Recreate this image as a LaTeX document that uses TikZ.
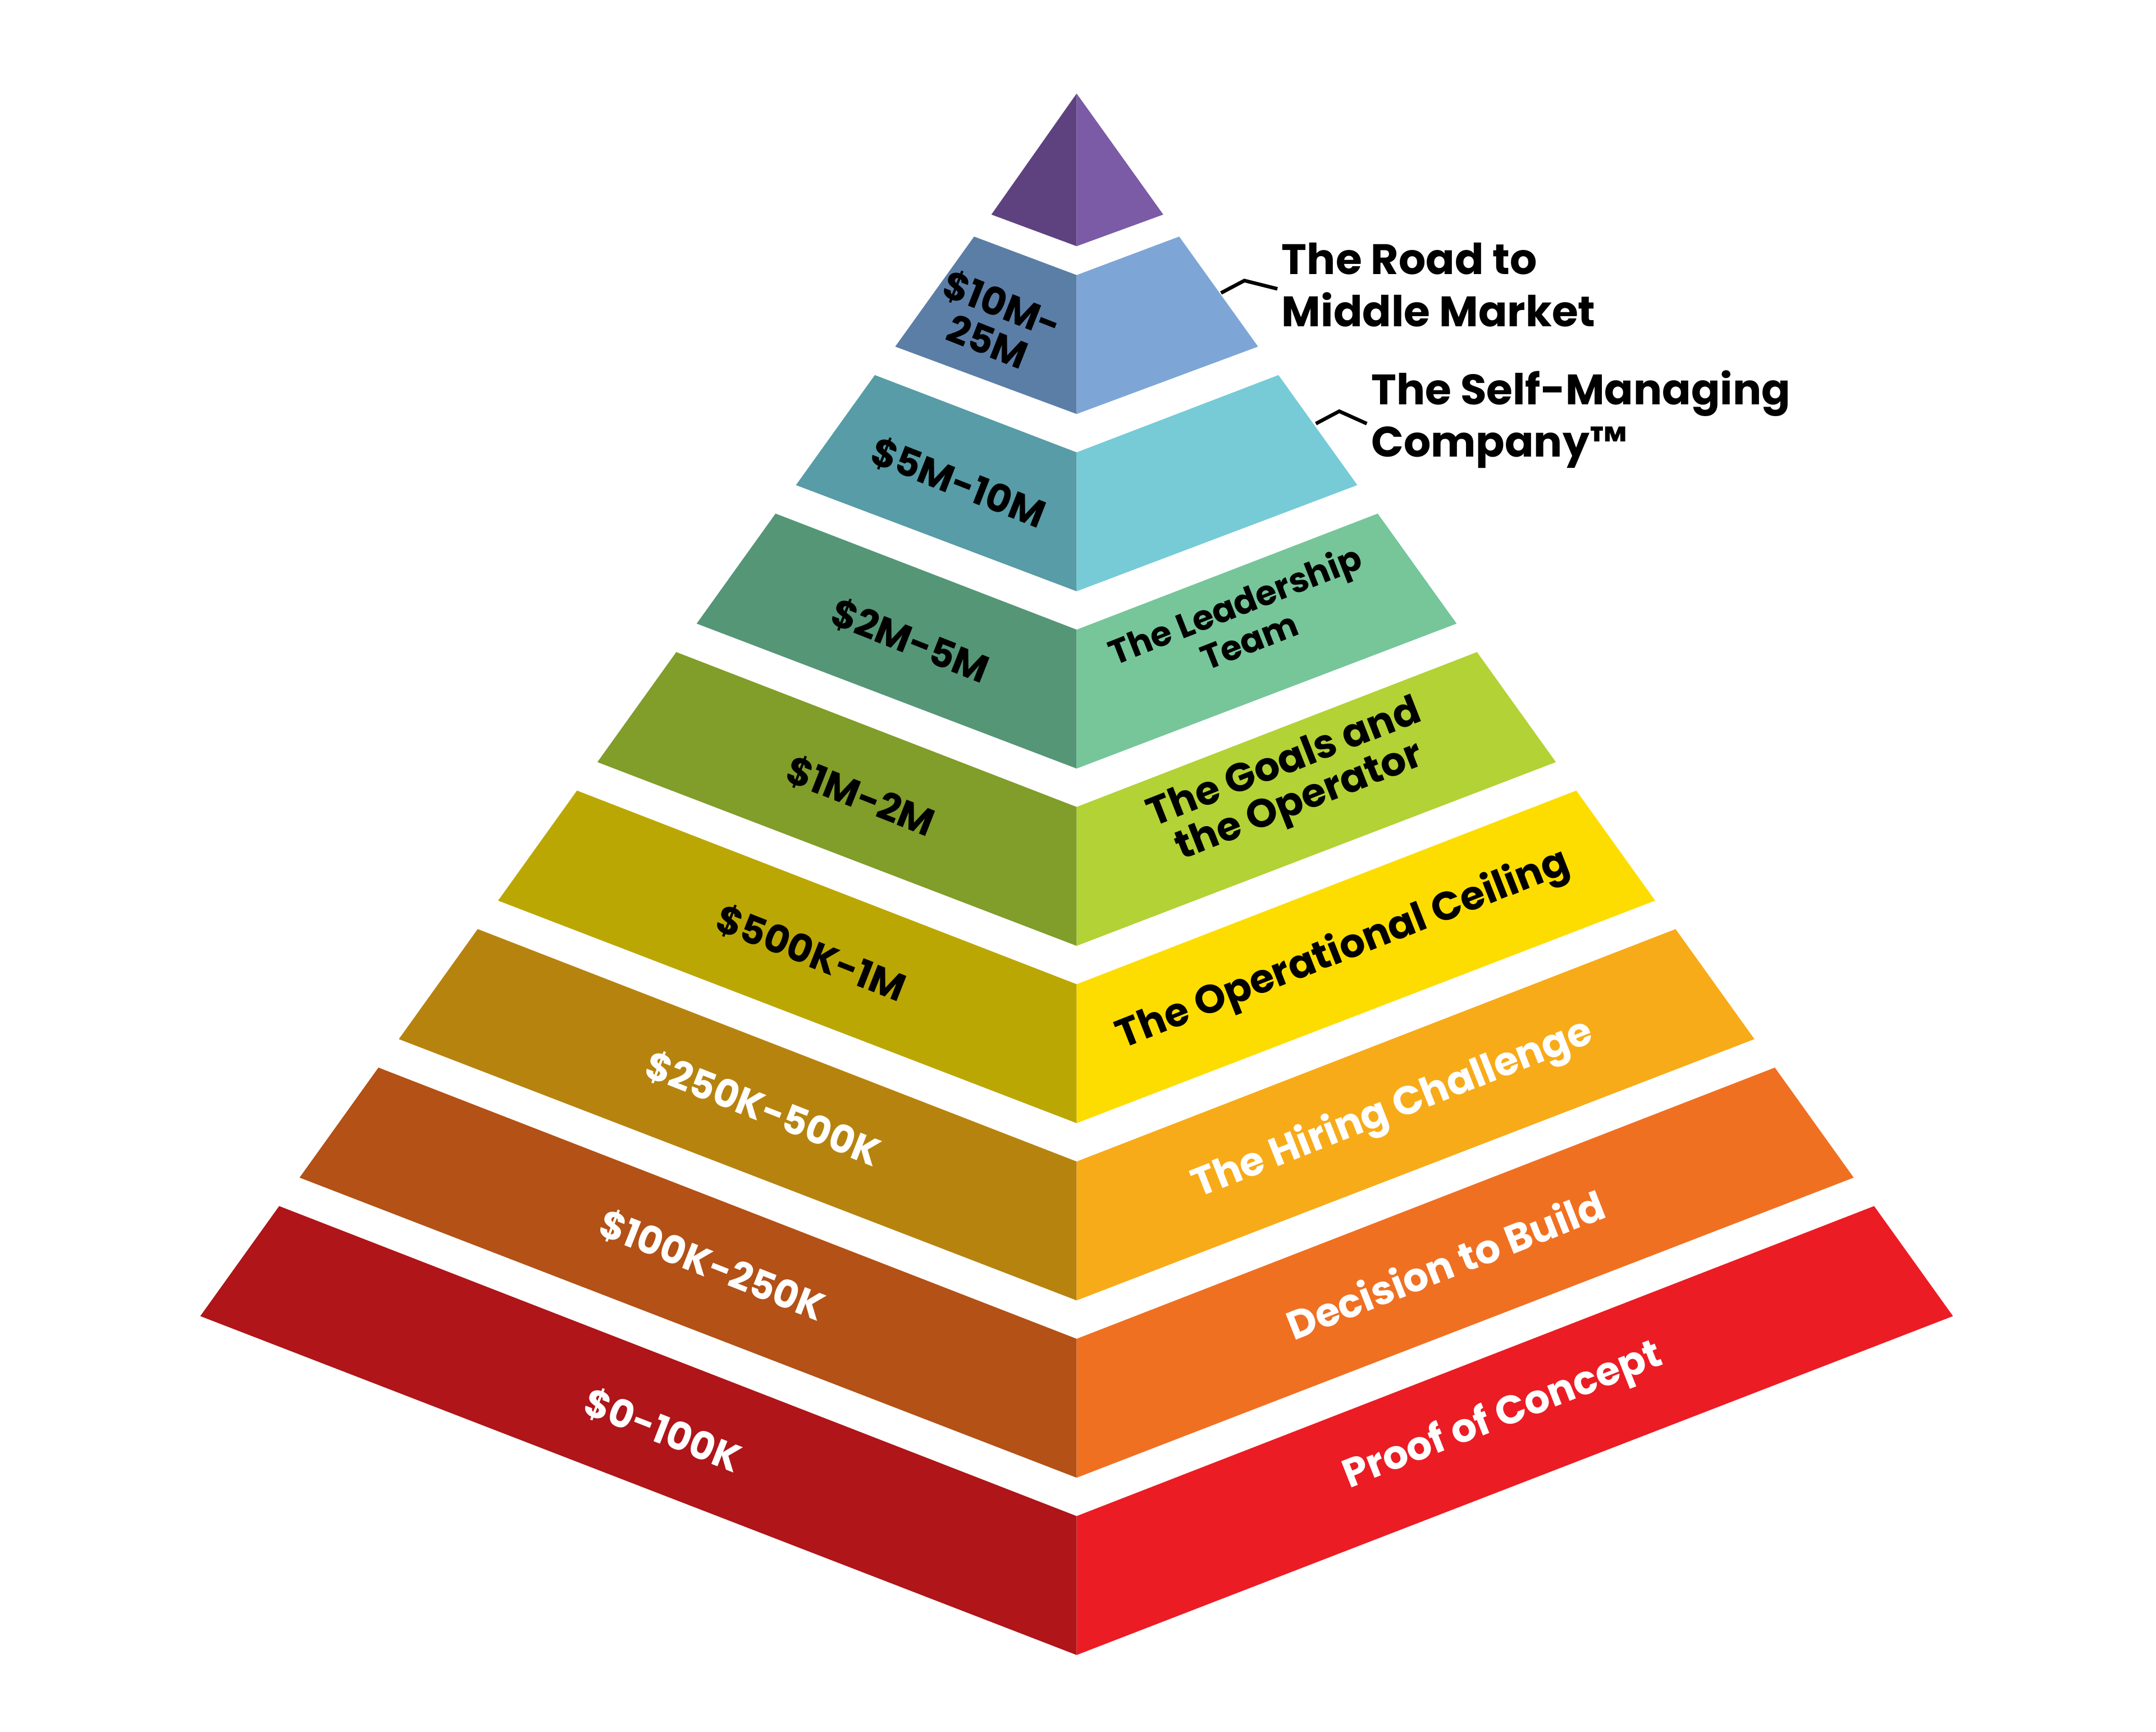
\documentclass[tikz,border=0pt]{standalone}
\usepackage{fontspec}
\setmainfont{Poppins}
\usetikzlibrary{positioning}

\definecolor{tipL}{HTML}{5E427F}\definecolor{tipR}{HTML}{7B5BA5}
\definecolor{bandLa}{HTML}{5B7EA6}\definecolor{bandRa}{HTML}{7DA6D6}
\definecolor{bandLb}{HTML}{579CA6}\definecolor{bandRb}{HTML}{76CBD7}
\definecolor{bandLc}{HTML}{559677}\definecolor{bandRc}{HTML}{76C69A}
\definecolor{bandLd}{HTML}{819D2A}\definecolor{bandRd}{HTML}{B2D235}
\definecolor{bandLe}{HTML}{BBA704}\definecolor{bandRe}{HTML}{FDDD00}
\definecolor{bandLf}{HTML}{B7830F}\definecolor{bandRf}{HTML}{F8AB18}
\definecolor{bandLg}{HTML}{B35116}\definecolor{bandRg}{HTML}{F07022}
\definecolor{bandLh}{HTML}{AF1519}\definecolor{bandRh}{HTML}{EC1C24}

\tikzset{
  lefttag/.style={rotate=-21.5,align=center,font=\fontsize{28}{29}\selectfont\bfseries,inner sep=0pt},
  righttag/.style={rotate=21.5,align=center,font=\fontsize{29}{30}\selectfont\bfseries,inner sep=0pt},
  sidetag/.style={anchor=west,align=left,font=\fontsize{31}{38}\selectfont\bfseries,inner sep=0pt},
  leader/.style={line width=2.6pt}
}

\begin{document}
\begin{tikzpicture}[x=1pt,y=-1pt]
  \useasboundingbox (0,0) rectangle (1568,1259);

  % tip of the pyramid
  \fill[tipL] (783,68) -- (721,156) -- (783,179) -- cycle;
  \fill[tipR] (783,68) -- (846,156) -- (783,179) -- cycle;

  % chevron bands
  \foreach \k/\cl/\cr in {0/bandLa/bandRa,1/bandLb/bandRb,2/bandLc/bandRc,3/bandLd/bandRd,
                          4/bandLe/bandRe,5/bandLf/bandRf,6/bandLg/bandRg,7/bandLh/bandRh} {
    \pgfmathsetmacro{\ot}{172+100.7*\k}
    \pgfmathsetmacro{\ob}{\ot+80}
    \pgfmathsetmacro{\ct}{200+128.9*\k}
    \pgfmathsetmacro{\cb}{\ct+101}
    \pgfmathsetmacro{\xt}{0.717*(\ot-68)}
    \pgfmathsetmacro{\xb}{0.717*(\ob-68)}
    \fill[\cl] (783-\xt,\ot) -- (783,\ct) -- (783,\cb) -- (783-\xb,\ob) -- cycle;
    \fill[\cr] (783+\xt,\ot) -- (783,\ct) -- (783,\cb) -- (783+\xb,\ob) -- cycle;
  }

  % revenue labels
  \node[lefttag] (rev1) at (724,234) {\$10M-\\25M};
  \node[lefttag] (rev2) at (697,351) {\$5M-10M};
  \node[lefttag] (rev3) at (662,466) {\$2M-5M};
  \node[lefttag] (rev4) at (626,579) {\$1M-2M};
  \node[lefttag] (rev5) at (590,693) {\$500K-1M};
  \node[lefttag,white] (rev6) at (555,806) {\$250K-500K};
  \node[lefttag,white] (rev7) at (518,920) {\$100K-250K};
  \node[lefttag,white] (rev8) at (482,1040) {\$0-100K};

  % stage labels
  \node[righttag,font=\fontsize{25}{28}\selectfont\bfseries] (stg3) at (903,452) {The Leadership\\Team};
  \node[righttag] (stg4) at (940,570) {The Goals and\\the Operator};
  \node[righttag] (stg5) at (977,691) {The Operational Ceiling};
  \node[righttag,white] (stg6) at (1013,807) {The Hiring Challenge};
  \node[righttag,white] (stg7) at (1051,919) {Decision to Build};
  \node[righttag,white] (stg8) at (1093,1030) {Proof of Concept};

  % outside labels with leaders
  \node[sidetag] (stg1) at (932,207) {The Road to\\Middle Market};
  \node[sidetag] (stg2) at (997,305) {The Self-Managing\\Company™};
  \coordinate (lead1) at (888,213);
  \coordinate (lead2) at (957,308);
  \draw[leader] (lead1) -- ++(17,-9) -- ([xshift=-3pt,yshift=-3pt]stg1.west);
  \draw[leader] (lead2) -- ++(17,-9) -- ([xshift=-3pt,yshift=-3pt]stg2.west);
\end{tikzpicture}
\end{document}
